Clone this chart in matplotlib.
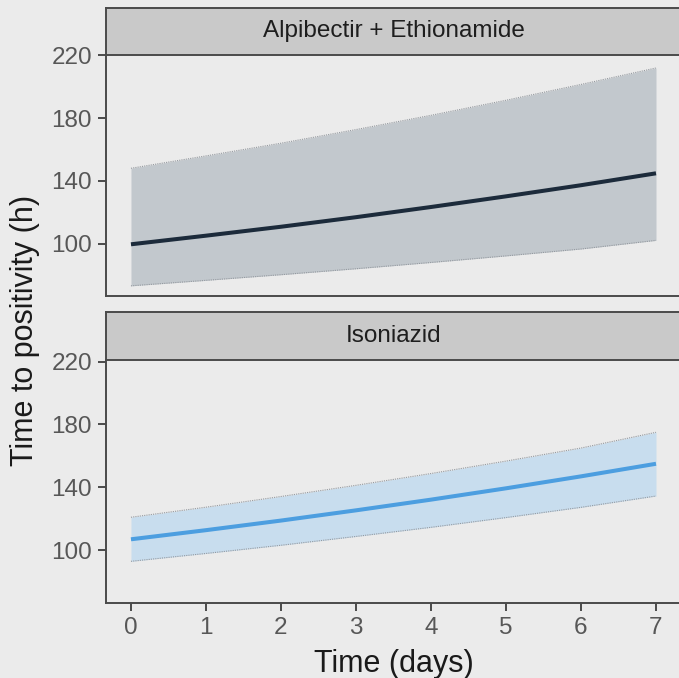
import matplotlib.pyplot as plt

plt.rcParams['font.family'] = ['Liberation Sans', 'DejaVu Sans']

# Model predictions of time to positivity by day
days = [0, 1, 2, 3, 4, 5, 6, 7]
panels = ['Alpibectir + Ethionamide', 'Isoniazid']

combo_mid = [99.5, 105.0, 110.7, 116.8, 123.3, 130.1, 137.2, 144.8]
combo_lo = [73.0, 76.5, 80.1, 83.9, 87.9, 92.1, 96.5, 102.0]
combo_hi = [148.0, 155.9, 164.0, 172.7, 181.8, 191.4, 201.5, 212.0]

inh_mid = [107.0, 112.8, 118.9, 125.4, 132.2, 139.4, 147.0, 155.0]
inh_lo = [93.0, 98.0, 103.2, 108.8, 114.6, 120.8, 127.3, 134.5]
inh_hi = [121.0, 127.4, 134.2, 141.3, 148.8, 156.7, 165.0, 175.0]

bg = '#EBEBEB'
fig = plt.figure(figsize=(6.79, 6.78), dpi=100, facecolor=bg)

series = [
    (combo_mid, combo_lo, combo_hi, '#1C2B3B', '#C2C8CD'),
    (inh_mid, inh_lo, inh_hi, '#4C9EE0', '#C8DDEE'),
]
# panel boxes (left, bottom, width, height) and strip boxes
panel_pos = [[0.1561, 0.5634, 0.8468, 0.3555], [0.1561, 0.1106, 0.8468, 0.3569]]
strip_pos = [[0.1561, 0.9189, 0.8468, 0.0693], [0.1561, 0.4690, 0.8468, 0.0708]]

for i, (mid, lo, hi, lc, fc) in enumerate(series):
    ax = fig.add_axes(panel_pos[i])
    ax.set_facecolor(bg)
    ax.fill_between(days, lo, hi, color=fc, lw=0)
    ax.plot(days, lo, color='#959AA0', lw=0.8, ls=(0, (1, 1)))
    ax.plot(days, hi, color='#959AA0', lw=0.8, ls=(0, (1, 1)))
    ax.plot(days, mid, color=lc, lw=2.9, solid_capstyle='butt')
    ax.set_xlim(-0.333, 7.333)
    ax.set_ylim(66.5, 220.3)
    ax.set_yticks([100, 140, 180, 220])
    ax.set_xticks(days)
    for s in ['top', 'right']:
        ax.spines[s].set_visible(False)
    for s in ['left', 'bottom']:
        ax.spines[s].set_color('#4A4A4A')
        ax.spines[s].set_linewidth(1.4)
    ax.tick_params(axis='both', colors='#4A4A4A', labelcolor='#575757',
                   labelsize=17.5, length=6, width=1.4, pad=4)
    if i == 0:
        ax.tick_params(axis='x', bottom=False, labelbottom=False)
    else:
        ax.set_xlabel('Time (days)', fontsize=22, color='#1A1A1A', labelpad=7)

    sax = fig.add_axes(strip_pos[i])
    sax.set_facecolor('#C9C9C9')
    sax.set_xticks([])
    sax.set_yticks([])
    for s in sax.spines.values():
        s.set_color('#4A4A4A')
        s.set_linewidth(1.4)
    sax.text(0.5, 0.5, panels[i], transform=sax.transAxes, ha='center',
             va='center', fontsize=17.5, color='#1E1E1E')

fig.text(0.037, 0.513, 'Time to positivity (h)', rotation=90, ha='center',
         va='center', fontsize=22, color='#1A1A1A')

plt.savefig('out.png', dpi=100, facecolor=bg)
